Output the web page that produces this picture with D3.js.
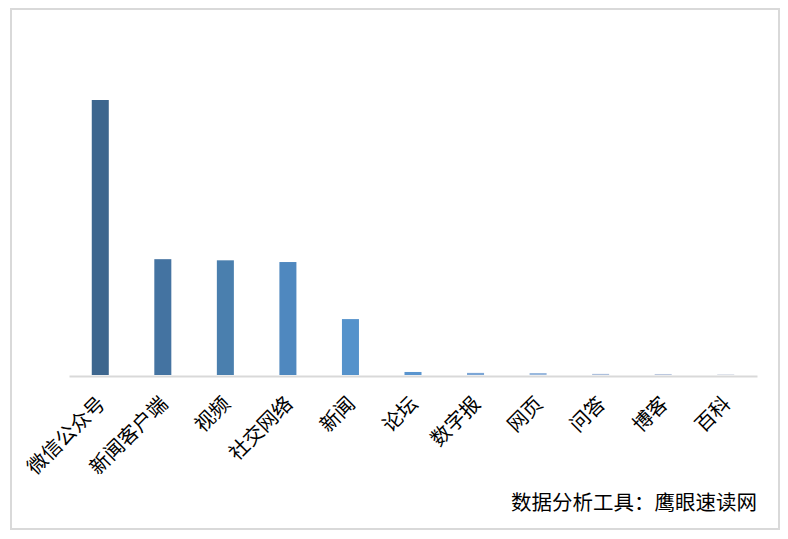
<!DOCTYPE html>
<html>
<head>
<meta charset="utf-8">
<script src="https://cdn.jsdelivr.net/npm/d3@7"></script>
<style>
html,body{margin:0;padding:0;background:#fff;}
svg{display:block;}
</style>
</head>
<body>
<svg id="chart" width="788" height="539"></svg>
<script>
const categories = ["微信公众号","新闻客户端","视频","社交网络","新闻","论坛","数字报","网页","问答","博客","百科"];
const values = [48.2, 20.3, 20.1, 19.8, 9.8, 0.53, 0.37, 0.35, 0.2, 0.18, 0.12];
const colors = ["#3d668e","#4473a1","#4a7fae","#4f88bf","#5592cb","#5a95cf","#7ca6d6","#9ab9de","#adc0dd","#bcc8df","#d0d7e2"];
const watermark = "数据分析工具：鹰眼速读网";

const svg = d3.select("#chart");
const font = "'Noto Sans CJK SC', 'Noto Sans', sans-serif";

// outer border
svg.append("rect").attr("x", 11).attr("y", 9).attr("width", 768).attr("height", 520)
  .attr("fill", "#fff").attr("stroke", "#d9d9d9").attr("stroke-width", 2);

const x = d3.scaleBand().domain(categories).range([69, 757]).paddingInner(0).paddingOuter(0);
const y = d3.scaleLinear().domain([0, d3.max(values)]).range([375, 100]);
const barW = x.bandwidth() * 0.272;

svg.append("g").selectAll("rect").data(categories).join("rect")
  .attr("x", (d) => x(d) + x.bandwidth() / 2 - barW / 2)
  .attr("y", (d, i) => y(values[i]))
  .attr("width", barW)
  .attr("height", (d, i) => y(0) - y(values[i]))
  .attr("fill", (d, i) => colors[i]);

// axis line
const axis = svg.append("g").attr("transform", "translate(0,376)")
  .call(d3.axisBottom(x).tickSize(0).tickFormat(""));
axis.select(".domain").attr("stroke", "#d9d9d9").attr("stroke-width", 2);

// labels
svg.append("g").selectAll("text").data(categories).join("text")
  .attr("transform", (d) => `translate(${x(d) + x.bandwidth() / 2 + 6},${405}) rotate(-45)`)
  .attr("text-anchor", "end")
  .attr("font-family", font)
  .attr("font-size", 20)
  .attr("fill", "#000")
  .text((d) => d);

svg.append("text")
  .attr("x", 757).attr("y", 510)
  .attr("text-anchor", "end")
  .attr("font-family", font)
  .attr("font-size", 20.5)
  .attr("fill", "#000")
  .text(watermark);
</script>
</body>
</html>
